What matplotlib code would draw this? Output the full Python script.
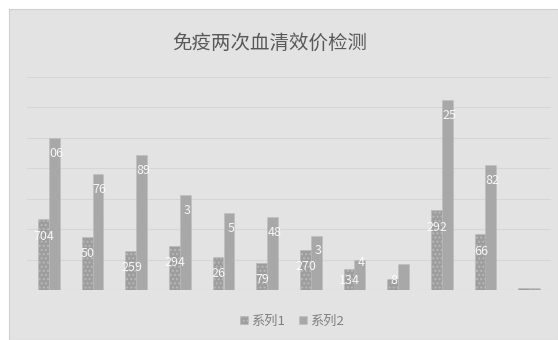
import matplotlib
matplotlib.use("Agg")
import matplotlib.pyplot as plt
import numpy as np

plt.rcParams['font.family'] = ['Noto Sans CJK SC', 'DejaVu Sans']
plt.rcParams['hatch.color'] = "#919191"

title = "免疫两次血清效价检测"
categories = [str(i) for i in range(1, 13)]
series_names = ["系列1", "系列2"]
s1 = [2.32, 1.75, 1.28, 1.45, 1.10, 0.89, 1.33, 0.68, 0.35, 2.62, 1.83, 0.05]
s2 = [5.00, 3.80, 4.44, 3.12, 2.53, 2.40, 1.79, 0.98, 0.84, 6.23, 4.10, 0.06]
s1_labels = ["704", "50", "259", "294", "26", "79", "270", "134", "8", "292", "66", ""]
s2_labels = ["06", "76", "89", "3", "5", "48", "3", "4", "", "25", "82", ""]

W, H = 558, 340
fig = plt.figure(figsize=(W / 100, H / 100), dpi=100)
fig.patch.set_facecolor("white")

bg = fig.add_axes([9 / W, 0, 1 - 9 / W, 1 - 9 / H], zorder=-1)
bg.set_facecolor("#e3e3e3")
bg.set_xticks([]); bg.set_yticks([])
for s in bg.spines.values():
    s.set_color("#d0d0d0"); s.set_linewidth(0.8)

ax = fig.add_axes([27 / W, 1 - 290 / H, (551 - 27) / W, (290 - 77) / H], zorder=1)
ax.set_facecolor("none")
x = np.arange(len(categories))
bw = 0.25
c1, c2 = "#9d9d9d", "#a8a8a8"
b1 = ax.bar(x - bw / 2, s1, bw, color=c1, edgecolor="#b8b8b8", linewidth=0.6,
            linestyle=(0, (1, 1)), hatch="....", label=series_names[0], zorder=3)
b2 = ax.bar(x + bw / 2, s2, bw, color=c2, edgecolor="#bcbcbc", linewidth=0.6,
            linestyle=(0, (1, 1)), label=series_names[1], zorder=3)

for xi, v, lab in zip(x, s1, s1_labels):
    ax.text(xi - bw / 2 + 0.02, max(v - 0.55, 0.3), lab, ha="center", va="center",
            color="white", fontsize=9, alpha=0.9, zorder=4)
for xi, v, lab in zip(x, s2, s2_labels):
    ax.text(xi + bw / 2 + 0.04, max(v - 0.5, 0.9), lab, ha="center", va="center",
            color="white", fontsize=9, alpha=0.9, zorder=4)

ax.set_xlim(-0.5, len(categories) - 0.5)
ax.set_ylim(0, 7)
ax.set_yticks(np.arange(0, 8, 1))
ax.yaxis.grid(True, color="#d6d6d6", linewidth=0.8, zorder=0)
ax.set_axisbelow(True)
ax.tick_params(left=False, bottom=False, labelleft=False, labelbottom=False)
for s in ax.spines.values():
    s.set_visible(False)
ax.axhline(0, color="#d0d0d0", lw=0.8, zorder=2)

fig.text(270 / W, 1 - 43 / H, title, ha="center", va="center", fontsize=14, color="#595959")

leg = fig.legend(handles=[b1, b2], labels=series_names, loc="center",
                 bbox_to_anchor=(292 / W, 1 - 321 / H), ncol=2, frameon=False,
                 fontsize=9.5, handlelength=0.6, handleheight=0.6, handletextpad=0.3,
                 columnspacing=1.0, labelcolor="#7f7f7f")

fig.savefig("out.png", dpi=100, facecolor=fig.get_facecolor())
